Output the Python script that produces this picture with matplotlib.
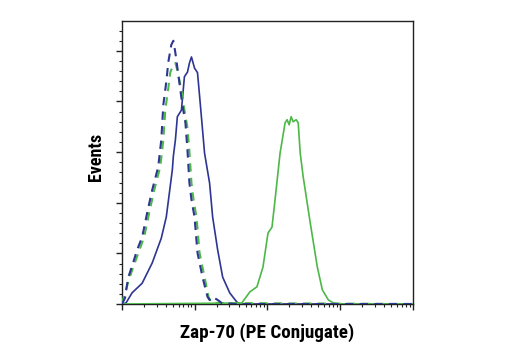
import matplotlib.pyplot as plt
import matplotlib.font_manager as fm
import numpy as np
from matplotlib.ticker import MultipleLocator, LogLocator, NullFormatter

# log10 of fluorescence intensity and event counts (arbitrary units)
blue_dash_exp = [0, 0.042, 0.083, 0.152, 0.208, 0.277, 0.346, 0.415, 0.498, 0.540, 0.568, 0.609,
                 0.637, 0.678, 0.706, 0.734, 0.789, 0.830, 0.872, 0.900, 0.927, 0.955, 0.997,
                 1.038, 1.107, 1.176, 1.204, 1.246, 1.315, 1.370, 1.550, 4.0]
blue_dash_y = [0, 0.12, 0.51, 0.81, 1.07, 1.32, 1.80, 2.25, 2.71, 3.24, 3.93, 4.39,
               4.78, 5.12, 5.20, 4.96, 4.37, 3.93, 3.58, 3.04, 2.39, 2.06, 1.72,
               1.01, 0.53, 0.14, 0.08, 0.14, 0.08, 0.02, 0, 0]

green_dash_exp = [0, 0.028, 0.111, 0.180, 0.304, 0.374, 0.443, 0.526, 0.568, 0.595, 0.637, 0.664,
                  0.706, 0.734, 0.761, 0.817, 0.858, 0.900, 0.927, 0.955, 0.983, 1.024, 1.066,
                  1.135, 1.190, 1.232, 4.0]
green_dash_y = [0, 0.16, 0.55, 0.83, 1.32, 1.80, 2.25, 2.71, 3.24, 3.83, 4.27, 4.58,
                4.72, 4.76, 4.62, 4.23, 3.83, 3.48, 3.00, 2.39, 2.06, 1.72, 1.01,
                0.53, 0.14, 0.02, 0]

blue_solid_exp = [0, 0.055, 0.138, 0.277, 0.415, 0.540, 0.609, 0.651, 0.692, 0.706, 0.734, 0.761,
                  0.817, 0.858, 0.900, 0.927, 0.955, 0.997, 1.038, 1.080, 1.135, 1.204, 1.246,
                  1.315, 1.384, 1.481, 1.578, 1.619, 4.0]
blue_solid_y = [0, 0.02, 0.22, 0.41, 0.81, 1.30, 1.72, 2.19, 2.65, 2.92, 3.24, 3.70,
                3.83, 4.49, 4.58, 4.76, 4.88, 4.66, 4.57, 3.89, 2.98, 2.39, 1.72,
                1.07, 0.53, 0.22, 0.04, 0, 0]

green_solid_exp = [0, 1.647, 1.758, 1.855, 1.938, 2.007, 2.062, 2.104, 2.173, 2.242, 2.270, 2.298,
                   2.325, 2.353, 2.394, 2.422, 2.450, 2.491, 2.588, 2.685, 2.754, 2.837, 2.907,
                   3.003, 4.0]
green_solid_y = [0, 0.02, 0.24, 0.34, 0.73, 1.40, 1.52, 2.06, 2.98, 3.58, 3.64, 3.54,
                 3.70, 3.60, 3.64, 3.58, 2.98, 2.51, 1.60, 0.73, 0.28, 0.08, 0.02,
                 0, 0]

blue = '#2e3592'
green = '#4cb848'

# a condensed bold face if one is installed, otherwise Arial-like Liberation Sans
lab_font, lab_stretch, scale = 'Liberation Sans', 'normal', 0.84
fonts = fm.fontManager.ttflist
for f in fonts:
    if f.name in ('Roboto Condensed', 'Liberation Sans Narrow', 'Open Sans Condensed'):
        lab_font, lab_stretch, scale = f.name, 'normal', 1.0
        break
else:
    for f in fonts:
        if f.name == 'DejaVu Sans' and f.stretch == 'condensed':
            lab_font, lab_stretch, scale = 'DejaVu Sans', 'condensed', 0.88
            break

fig = plt.figure(figsize=(5.2, 3.5), dpi=100)
ax = fig.add_axes([0.2346, 0.1314, 0.5596, 0.8086])

ax.plot(10 ** np.array(blue_solid_exp), blue_solid_y, color=blue, lw=1.2, zorder=2)
ax.plot(10 ** np.array(green_solid_exp), green_solid_y, color=green, lw=1.2, zorder=3)
ax.plot(10 ** np.array(green_dash_exp), green_dash_y, color=green, lw=1.5,
        dashes=(4, 3), zorder=4)
ax.plot(10 ** np.array(blue_dash_exp), blue_dash_y, color=blue, lw=1.5,
        dashes=(4, 3), zorder=5)

ax.set_xscale('log')
ax.set_xlim(1, 1e4)
ax.set_ylim(0, 5.59)
ax.xaxis.set_major_locator(LogLocator(base=10, numticks=10))
ax.xaxis.set_minor_locator(LogLocator(base=10, subs=np.arange(2, 10), numticks=10))
ax.xaxis.set_major_formatter(NullFormatter())
ax.xaxis.set_minor_formatter(NullFormatter())
ax.yaxis.set_major_locator(MultipleLocator(1))
ax.yaxis.set_minor_locator(MultipleLocator(0.2))
ax.yaxis.set_major_formatter(NullFormatter())

ax.tick_params(axis='both', which='major', direction='out', length=4, width=1, color='#222222')
ax.tick_params(axis='both', which='minor', direction='out', length=2.5, width=0.8, color='#222222')
for s in ax.spines.values():
    s.set_linewidth(1.0)
    s.set_color('#222222')

ax.set_xlabel('Zap-70 (PE Conjugate)', fontfamily=lab_font, fontstretch=lab_stretch,
              fontweight='bold', fontsize=13.8 * scale, labelpad=6)
ax.set_ylabel('Events', fontfamily=lab_font, fontstretch=lab_stretch,
              fontweight='bold', fontsize=13 * scale)
ax.yaxis.set_label_coords(-0.058, 0.52)

plt.savefig('out.png', dpi=100)
